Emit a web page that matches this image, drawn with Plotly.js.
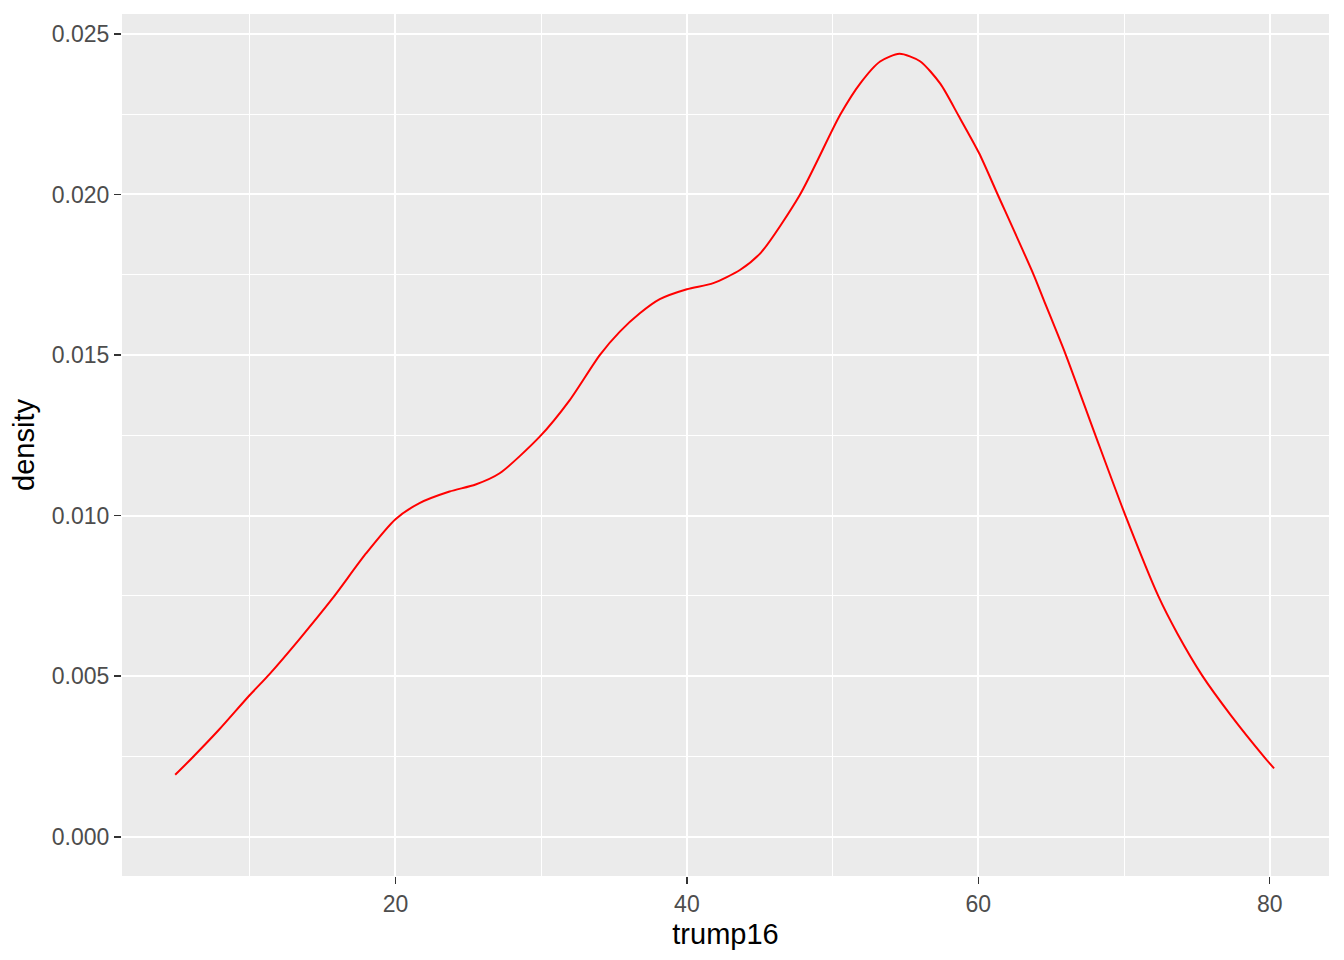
<!DOCTYPE html>
<html>
<head>
<meta charset="utf-8">
<script src="https://cdn.plot.ly/plotly-3.0.1.min.js"></script>
<style>html,body{margin:0;padding:0;background:#fff;}#chart{width:1344px;height:960px;}</style>
</head>
<body>
<div id="chart"></div>
<script>
const trump16 = [4.88, 6.07, 7.9, 9.97, 11.34, 13.4, 15.69, 17.99, 20.0, 21.65, 23.71, 25.5, 27.15, 29.9, 31.96, 34.02, 35.4, 36.77, 38.14, 40.0, 41.81, 43.64, 45.1, 47.77, 50.52, 51.9, 53.26, 54.59, 56.0, 57.39, 58.65, 60.05, 61.33, 63.8, 64.49, 65.98, 68.04, 70.1, 72.35, 73.65, 75.37, 77.31, 79.6, 80.3];
const density = [0.00193, 0.00247, 0.00334, 0.0044, 0.00506, 0.00615, 0.00743, 0.00883, 0.00989, 0.01039, 0.01075, 0.01097, 0.01132, 0.01246, 0.0136, 0.0150, 0.01573, 0.0163, 0.01674, 0.01705, 0.01724, 0.01765, 0.0182, 0.0200, 0.02248, 0.02346, 0.02414, 0.02438, 0.02415, 0.02345, 0.02245, 0.02129, 0.0200, 0.0175, 0.01672, 0.01504, 0.0125, 0.0100, 0.0075, 0.00634, 0.00502, 0.0038, 0.0025, 0.00213];
const xTicks = [20, 40, 60, 80];
const yTicks = [0.000, 0.005, 0.010, 0.015, 0.020, 0.025];
const yTickText = ["0.000", "0.005", "0.010", "0.015", "0.020", "0.025"];

const trace = {
  x: trump16, y: density, type: 'scatter', mode: 'lines',
  line: {color: '#FF0000', width: 2, shape: 'spline', smoothing: 0.7},
  hoverinfo: 'x+y', showlegend: false
};

const layout = {
  width: 1344, height: 960,
  margin: {l: 122, r: 15, t: 14, b: 84, pad: 0},
  paper_bgcolor: '#FFFFFF', plot_bgcolor: '#EBEBEB',
  font: {family: 'Liberation Sans, Arial, sans-serif', color: '#4D4D4D'},
  showlegend: false,
  xaxis: {
    range: [1.23, 84.07], tickmode: 'array', tickvals: xTicks,
    ticks: 'outside', ticklen: 7, tickwidth: 1.5, tickcolor: '#333333',
    tickfont: {size: 23, color: '#4D4D4D'},
    showgrid: true, gridcolor: '#FFFFFF', gridwidth: 2,
    minor: {tickvals: [10, 30, 50, 70], showgrid: true, gridcolor: '#FFFFFF', gridwidth: 1, ticks: ''},
    zeroline: false, showline: false,
    title: {text: 'trump16', font: {size: 29, color: '#000000'}, standoff: 8}
  },
  yaxis: {
    range: [-0.00122, 0.02562], tickmode: 'array', tickvals: yTicks, ticktext: yTickText,
    ticks: 'outside', ticklen: 7, tickwidth: 1.5, tickcolor: '#333333',
    tickfont: {size: 23, color: '#4D4D4D'},
    showgrid: true, gridcolor: '#FFFFFF', gridwidth: 2,
    minor: {tickvals: [0.0025, 0.0075, 0.0125, 0.0175, 0.0225], showgrid: true, gridcolor: '#FFFFFF', gridwidth: 1, ticks: ''},
    zeroline: false, showline: false,
    title: {text: 'density', font: {size: 29, color: '#000000'}, standoff: 8}
  }
};

Plotly.newPlot('chart', [trace], layout, {displayModeBar: false, staticPlot: true});
</script>
</body>
</html>
